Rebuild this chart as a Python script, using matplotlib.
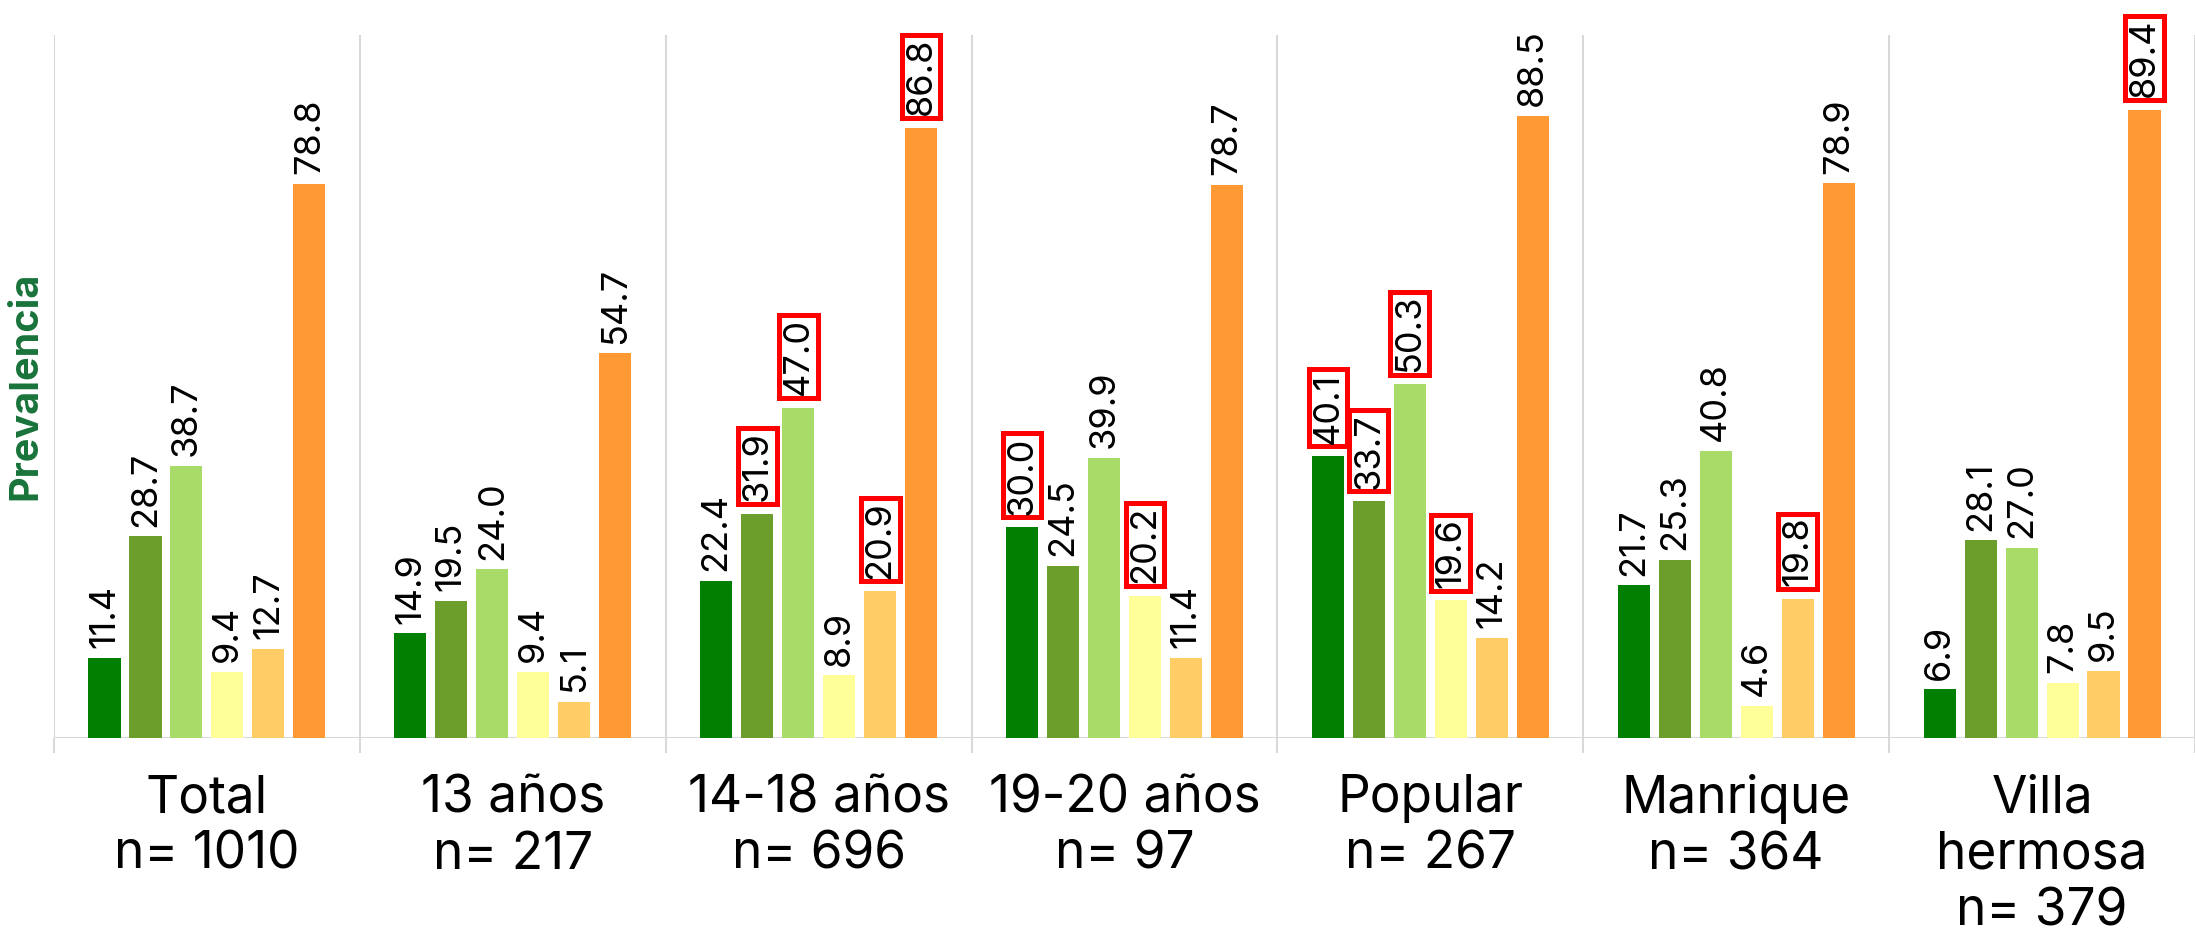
import matplotlib
matplotlib.use("Agg")
import matplotlib.pyplot as plt
import numpy as np

# Groups shown along the x axis
categories = ["Total\nn= 1010", "13 años\nn= 217", "14-18 años\nn= 696",
              "19-20 años\nn= 97", "Popular\nn= 267", "Manrique\nn= 364",
              "Villa\nhermosa\nn= 379"]

# Prevalence values, one list per bar series (same order as categories)
serie_1 = [11.4, 14.9, 22.4, 30.0, 40.1, 21.7, 6.9]
serie_2 = [28.7, 19.5, 31.9, 24.5, 33.7, 25.3, 28.1]
serie_3 = [38.7, 24.0, 47.0, 39.9, 50.3, 40.8, 27.0]
serie_4 = [9.4, 9.4, 8.9, 20.2, 19.6, 4.6, 7.8]
serie_5 = [12.7, 5.1, 20.9, 11.4, 14.2, 19.8, 9.5]
serie_6 = [78.8, 54.7, 86.8, 78.7, 88.5, 78.9, 89.4]

# (group index, series index) of values framed in red
highlighted = [(2, 1), (2, 2), (2, 4), (2, 5),
               (3, 0), (3, 3),
               (4, 0), (4, 1), (4, 2), (4, 3),
               (5, 4),
               (6, 5)]

colors = ["#007F00", "#6B9E2A", "#A9DB68", "#FFFF99", "#FFCC66", "#FF9933"]

plt.rcParams["font.family"] = ["Inter", "DejaVu Sans"]

fig = plt.figure(figsize=(21.95, 9.35), dpi=100)
ax = fig.add_axes([54 / 2195, 197 / 935, 1 - 54 / 2195, (738 - 35) / 935])

series = [serie_1, serie_2, serie_3, serie_4, serie_5, serie_6]
n_groups = len(categories)
pitch = 0.134
width = 0.105
centers = np.arange(n_groups) + 0.5

for k, (vals, col) in enumerate(zip(series, colors)):
    xs = centers + (k - 2.5) * pitch
    ax.bar(xs, vals, width=width, color=col, zorder=2)
    for g, (x, v) in enumerate(zip(xs, vals)):
        boxed = (g, k) in highlighted
        kw = dict(rotation=90, ha="center", va="bottom", fontsize=26,
                  color="black", zorder=4)
        if boxed:
            kw["bbox"] = dict(boxstyle="square,pad=0.08", fc="white",
                              ec="#FF0000", lw=3.6)
        ax.annotate(f"{v:.1f}", xy=(x, v), xytext=(0, 9 if boxed else 7),
                    textcoords="offset points", **kw)

# group separators and baseline
for s in range(n_groups + 1):
    ax.axvline(s, color="#D9D9D9", lw=1.5, zorder=1)
ax.axhline(0, color="#D9D9D9", lw=1.5, zorder=1)

ax.set_xlim(0, n_groups)
ax.set_ylim(0, 100)
ax.set_yticks([])
ax.set_xticks(range(n_groups + 1))
ax.set_xticklabels([])
ax.tick_params(axis="x", which="major", length=11, width=1.5, color="#D9D9D9")
ax.set_xticks(centers, minor=True)
ax.set_xticklabels(categories, minor=True, fontsize=37, linespacing=1.2)
ax.tick_params(axis="x", which="minor", length=0, pad=26)
for sp in ax.spines.values():
    sp.set_visible(False)

fig.text(26 / 2195, 1 - 386 / 935, "Prevalencia", rotation=90, ha="center",
         va="center", fontsize=28.5, fontweight="bold", color="#18733A")

fig.savefig("out.png", dpi=100)
